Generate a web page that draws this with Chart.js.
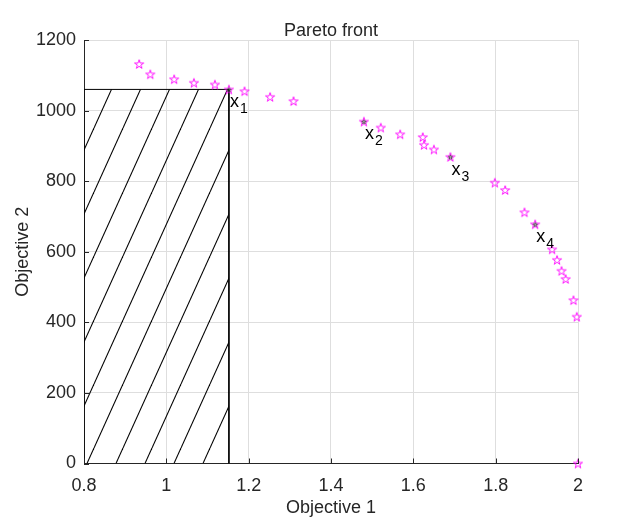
<!doctype html>
<html>
<head>
<title>Pareto front</title>
<script src="https://cdn.jsdelivr.net/npm/chart.js@4/dist/chart.umd.min.js"></script>
<style>
  body { margin: 0; background: #fff; }
  #holder { width: 640px; height: 522px; }
</style>
</head>
<body>
<div id="holder"><canvas id="chart-area"></canvas></div>
<script>
// pareto points
var objective1 = [0.934, 0.961, 1.019, 1.067, 1.118, 1.152, 1.190, 1.252, 1.309,
                  1.480, 1.521, 1.568, 1.623, 1.626, 1.650, 1.690, 1.798, 1.823,
                  1.870, 1.896, 1.937, 1.949, 1.960, 1.970, 1.989, 1.997, 2.000];
var objective2 = [1132, 1103, 1089, 1079, 1074, 1060, 1055, 1039, 1027,
                  969, 952, 933, 925, 903, 890, 869, 796, 775,
                  712, 678, 607, 577, 546, 523, 463, 416, 0];

// the four marked solutions
var selX = [1.152, 1.480, 1.690, 1.896];
var selY = [1060, 969, 869, 678];
var selNames = ['1', '2', '3', '4'];

var xTicks = [0.8, 1, 1.2, 1.4, 1.6, 1.8, 2];
var yTicks = [0, 200, 400, 600, 800, 1000, 1200];

var textColor = '#262626';
var font = 'Liberation Sans, Arial, Helvetica, sans-serif';

function starCanvas(r, color, lw) {
    var s = Math.ceil(r * 2 + 4);
    var c = document.createElement('canvas');
    c.width = s; c.height = s;
    var g = c.getContext('2d');
    var ri = r * 0.382;
    g.beginPath();
    for (var i = 0; i < 10; i++) {
        var rr = (i % 2 === 0) ? r : ri;
        var a = -Math.PI / 2 + i * Math.PI / 5;
        var px = s / 2 + rr * Math.cos(a), py = s / 2 + 0.5 + rr * Math.sin(a);
        if (i === 0) g.moveTo(px, py); else g.lineTo(px, py);
    }
    g.closePath();
    g.strokeStyle = color;
    g.lineWidth = lw;
    g.stroke();
    return c;
}

// diagonal hatch tile, lines rise to the right
function hatchPattern() {
    var w = 29, h = 64;
    var c = document.createElement('canvas');
    c.width = w; c.height = h;
    var g = c.getContext('2d');
    g.strokeStyle = '#000';
    g.lineWidth = 1.1;
    for (var k = -1; k <= 1; k++) {
        g.beginPath();
        g.moveTo(k * w, h);
        g.lineTo(k * w + w, 0);
        g.stroke();
    }
    var p = g.createPattern(c, 'repeat');
    if (p.setTransform) p.setTransform(new DOMMatrix().translate(7, 0));
    return p;
}

var pentagram = starCanvas(4.8, '#ff00ff', 0.9);
var darkStar = starCanvas(2.2, '#333333', 0.9);

var points = objective1.map(function (v, i) { return { x: v, y: objective2[i] }; });
var marked = selX.map(function (v, i) { return { x: v, y: selY[i] }; });
// dominated box: from the lower-left corner of the axes to x1
var box = [
    { x: xTicks[0], y: 0 },
    { x: xTicks[0], y: selY[0] },
    { x: selX[0], y: selY[0] },
    { x: selX[0], y: 0 }
];

var decorPlugin = {
    id: 'decor',
    afterDatasetsDraw: function (chart) {
        var ctx = chart.ctx, xs = chart.scales.x, ys = chart.scales.y;
        ctx.save();
        ctx.fillStyle = '#000';
        ctx.textBaseline = 'middle';
        ctx.textAlign = 'left';
        for (var i = 0; i < selX.length; i++) {
            var px = xs.getPixelForValue(selX[i]) + 1;
            var py = ys.getPixelForValue(selY[i]) + 13;
            ctx.font = '18px ' + font;
            ctx.fillText('x', px, py);
            var wx = ctx.measureText('x').width;
            ctx.font = '14px ' + font;
            ctx.fillText(selNames[i], px + wx + 1, py + 7);
        }
        // inward ticks
        var a = chart.chartArea;
        ctx.strokeStyle = textColor;
        ctx.lineWidth = 1;
        ctx.beginPath();
        xTicks.forEach(function (t) {
            var p = Math.round(xs.getPixelForValue(t)) + 0.5;
            ctx.moveTo(p, a.bottom); ctx.lineTo(p, a.bottom - 5);
        });
        yTicks.forEach(function (t) {
            var p = Math.round(ys.getPixelForValue(t)) + 0.5;
            ctx.moveTo(a.left, p); ctx.lineTo(a.left + 5, p);
        });
        ctx.stroke();
        // title
        ctx.fillStyle = textColor;
        ctx.font = '18px ' + font;
        ctx.textAlign = 'center';
        ctx.fillText('Pareto front', (a.left + a.right) / 2, 31);
        ctx.restore();
    }
};

var config = {
    type: 'scatter',
    data: {
        datasets: [{
            label: 'box',
            type: 'line',
            data: box,
            showLine: true,
            borderColor: '#000',
            borderWidth: 1,
            pointRadius: 0,
            fill: 'origin',
            backgroundColor: hatchPattern(),
            tension: 0,
            order: 3
        }, {
            label: 'front',
            data: points,
            pointStyle: pentagram,
            pointRadius: 5,
            clip: false,
            order: 2
        }, {
            label: 'selected',
            data: marked,
            pointStyle: darkStar,
            pointRadius: 3,
            clip: false,
            order: 1
        }]
    },
    options: {
        responsive: false,
        animation: false,
        layout: { padding: { top: 40, right: 62, left: 0, bottom: 0 } },
        plugins: {
            legend: { display: false },
            tooltip: { enabled: false },
            title: { display: false }
        },
        scales: {
            x: {
                type: 'linear',
                min: 0.8, max: 2,
                afterBuildTicks: function (s) { s.ticks = xTicks.map(function (v) { return { value: v }; }); },
                afterFit: function (s) { s.height = 58.5; },
                ticks: {
                    color: textColor, padding: 12,
                    font: { family: font, size: 18 },
                    callback: function (v) { return String(v); }
                },
                grid: { color: '#dedede', drawTicks: false },
                border: { color: textColor, width: 1 },
                title: {
                    display: true, text: 'Objective 1', color: textColor,
                    font: { family: font, size: 18 },
                    padding: { top: 0, bottom: 3 }
                }
            },
            y: {
                type: 'linear',
                min: 0, max: 1200,
                afterBuildTicks: function (s) { s.ticks = yTicks.map(function (v) { return { value: v }; }); },
                afterFit: function (s) { s.width = 84; },
                ticks: {
                    color: textColor, padding: 8,
                    font: { family: font, size: 18 },
                    callback: function (v) { return String(v); }
                },
                grid: { color: '#dedede', drawTicks: false },
                border: { color: textColor, width: 1 },
                title: {
                    display: true, text: 'Objective 2', color: textColor,
                    font: { family: font, size: 18 },
                    padding: { top: 12, bottom: 0 }
                }
            }
        }
    },
    plugins: [decorPlugin]
};

var canvas = document.getElementById('chart-area');
canvas.width = 640;
canvas.height = 522;
window.myChart = new Chart(canvas.getContext('2d'), config);
</script>
</body>
</html>
